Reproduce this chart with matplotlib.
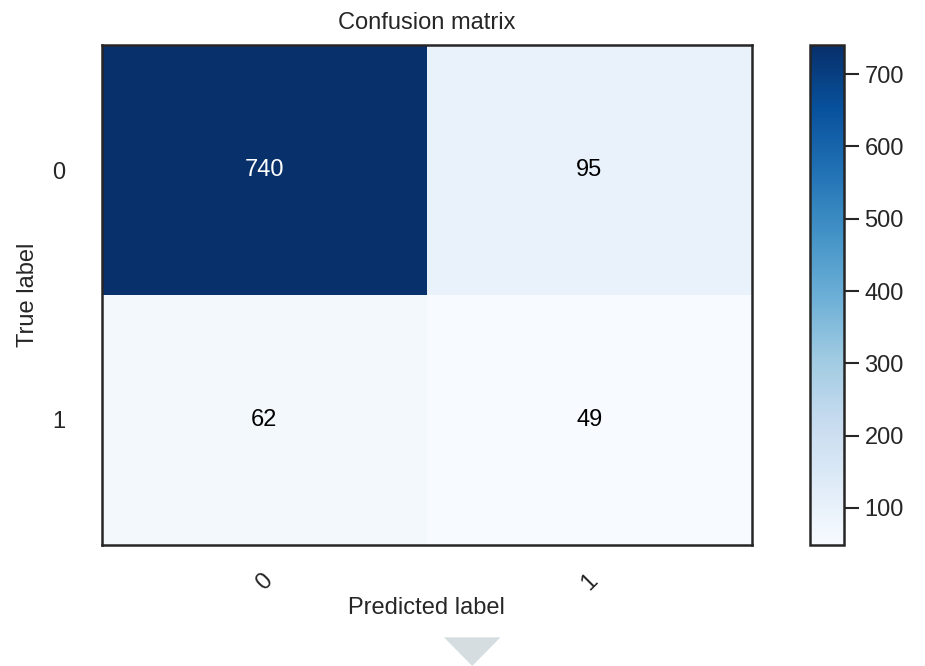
import numpy as np
import matplotlib
matplotlib.use("Agg")
import matplotlib.pyplot as plt
from matplotlib.patches import Polygon

classes = ["0", "1"]
cm = np.array([[740, 95],
               [62, 49]])
cbar_ticks = [100, 200, 300, 400, 500, 600, 700]

plt.rcParams['font.family'] = ['Liberation Sans', 'DejaVu Sans']
dark = "#262626"
fs = 17

fig = plt.figure(figsize=(9.25, 6.66), dpi=100)
ax = fig.add_axes([0.110, 0.182, 0.703, 0.750])
cax = fig.add_axes([0.876, 0.182, 0.036, 0.750])

im = ax.imshow(cm, interpolation="nearest", cmap=plt.cm.Blues, aspect="auto")
ax.set_title("Confusion matrix", fontsize=fs, color=dark, pad=12)

cb = fig.colorbar(im, cax=cax, ticks=cbar_ticks)
cb.outline.set_linewidth(1.8)
cb.outline.set_edgecolor(dark)
cax.tick_params(length=11, width=1.5, color=dark, labelsize=fs, labelcolor=dark, pad=4)

tick_marks = np.arange(len(classes))
ax.set_xticks(tick_marks)
ax.set_xticklabels(classes, rotation=45)
ax.set_yticks(tick_marks)
ax.set_yticklabels(classes)
ax.tick_params(length=0, labelsize=fs, labelcolor=dark)
ax.tick_params(axis="x", pad=18)
ax.tick_params(axis="y", pad=26)

thresh = cm.max() / 2.
for i in range(cm.shape[0]):
    for j in range(cm.shape[1]):
        ax.text(j, i, format(cm[i, j], "d"), ha="center", va="center",
                fontsize=fs, color="white" if cm[i, j] > thresh else "black")

for s in ax.spines.values():
    s.set_linewidth(1.8)
    s.set_edgecolor(dark)

ax.set_ylabel("True label", fontsize=fs, color=dark, labelpad=10)
ax.set_xlabel("Predicted label", fontsize=fs, color=dark, labelpad=2)

# grey marker below the chart
tri = Polygon([[0.480, 0.043], [0.541, 0.043], [0.5105, 0.0]], closed=True,
              transform=fig.transFigure, facecolor="#d5dde0", edgecolor="none")
fig.patches.append(tri)

fig.savefig("out.png", dpi=100)
